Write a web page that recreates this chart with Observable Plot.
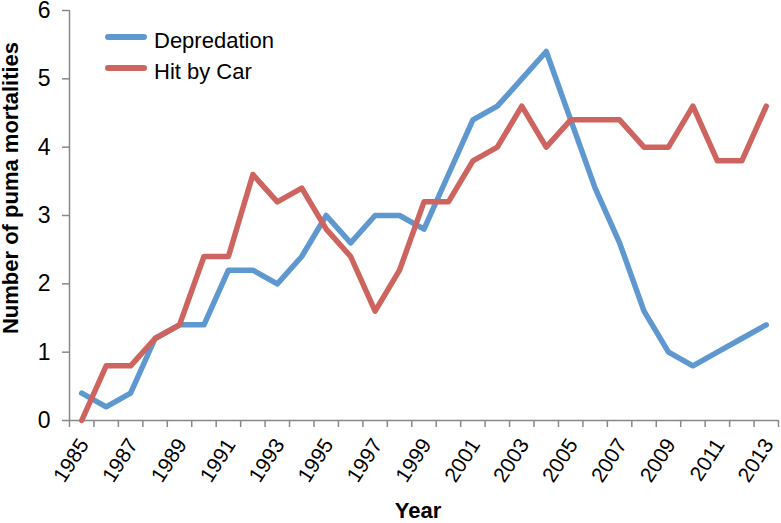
<!DOCTYPE html>
<html>
<head>
<meta charset="utf-8">
<script src="https://cdn.jsdelivr.net/npm/d3@7"></script>
<script src="https://cdn.jsdelivr.net/npm/@observablehq/plot@0.6"></script>
<style>
  html, body { margin: 0; padding: 0; background: #fff; }
  #chart { width: 781px; height: 523px; }
</style>
</head>
<body>
<div id="chart"></div>
<script>
const years = [1985, 1986, 1987, 1988, 1989, 1990, 1991, 1992, 1993, 1994, 1995, 1996, 1997, 1998, 1999,
               2000, 2001, 2002, 2003, 2004, 2005, 2006, 2007, 2008, 2009, 2010, 2011, 2012, 2013];
const depredation = [0.4, 0.2, 0.4, 1.2, 1.4, 1.4, 2.2, 2.2, 2.0, 2.4, 3.0, 2.6, 3.0, 3.0, 2.8,
                     3.6, 4.4, 4.6, 5.0, 5.4, 4.4, 3.4, 2.6, 1.6, 1.0, 0.8, 1.0, 1.2, 1.4];
const hitByCar = [0.0, 0.8, 0.8, 1.2, 1.4, 2.4, 2.4, 3.6, 3.2, 3.4, 2.8, 2.4, 1.6, 2.2, 3.2,
                  3.2, 3.8, 4.0, 4.6, 4.0, 4.4, 4.4, 4.4, 4.0, 4.0, 4.6, 3.8, 3.8, 4.6];
const xTickLabels = [1985, 1987, 1989, 1991, 1993, 1995, 1997, 1999, 2001, 2003, 2005, 2007, 2009, 2011, 2013];
const yTicks = [0, 1, 2, 3, 4, 5, 6];
const seriesNames = ["Depredation", "Hit by Car"];
const seriesColors = ["#5e98cf", "#cd645f"];

const rows = [];
years.forEach((yr, i) => {
  rows.push({year: yr, value: depredation[i], series: seriesNames[0]});
  rows.push({year: yr, value: hitByCar[i], series: seriesNames[1]});
});
// category boundaries (Excel-style ticks between categories)
const boundaries = years.map(y => y - 0.5).concat([years[years.length - 1] + 0.5]);

const axisGray = "#888888";
const plot = Plot.plot({
  width: 781,
  height: 523,
  marginLeft: 69,
  marginRight: 3,
  marginTop: 10,
  marginBottom: 103,
  style: {fontFamily: "'Liberation Sans', Arial, sans-serif", color: "#000", background: "#fff"},
  x: {type: "linear", domain: [years[0] - 0.5, years[years.length - 1] + 0.5]},
  y: {domain: [0, 6]},
  color: {domain: seriesNames, range: seriesColors},
  marks: [
    Plot.ruleX([years[0] - 0.5], {stroke: axisGray, strokeWidth: 1.5}),
    Plot.ruleY([0], {stroke: axisGray, strokeWidth: 1.5}),
    Plot.axisY({ticks: yTicks, tickSize: 7, stroke: axisGray, strokeWidth: 1.5, label: null, tickFormat: () => ""}),
    Plot.axisX({ticks: boundaries, tickSize: 7, stroke: axisGray, strokeWidth: 1.5, tickFormat: () => "", label: null}),
    Plot.text(yTicks, {y: d => d, text: d => String(d), frameAnchor: "left", dx: -19, textAnchor: "end", fontSize: 23, fill: "#000"}),
    Plot.text(xTickLabels, {x: d => d, text: d => String(d), frameAnchor: "bottom", dx: 8, dy: 24, rotate: -57, textAnchor: "end", fontSize: 21, fill: "#000"}),
    Plot.line(rows, {x: "year", y: "value", z: "series", stroke: "series", strokeWidth: 5.5, strokeLinejoin: "round", strokeLinecap: "round"})
  ]
});
document.getElementById("chart").appendChild(plot);

const svg = d3.select(plot);

// Axis titles and legend
svg.append("text")
  .attr("transform", "translate(18,188) rotate(-90)")
  .attr("text-anchor", "middle")
  .style("font-size", "22px")
  .attr("font-weight", "bold")
  .attr("fill", "#000")
  .text("Number of puma mortalities");
svg.append("text")
  .attr("x", 418).attr("y", 518)
  .attr("text-anchor", "middle")
  .style("font-size", "22px")
  .attr("font-weight", "bold")
  .attr("fill", "#000")
  .text("Year");

const legendY = [37, 68];
seriesNames.forEach((name, i) => {
  svg.append("line")
    .attr("x1", 108).attr("x2", 144)
    .attr("y1", legendY[i]).attr("y2", legendY[i])
    .attr("stroke", seriesColors[i])
    .attr("stroke-width", 6)
    .attr("stroke-linecap", "round");
  svg.append("text")
    .attr("x", 154).attr("y", legendY[i] + 11)
    .attr("text-anchor", "start")
    .style("font-size", "22px")
    .attr("fill", "#000")
    .text(name);
});
</script>
</body>
</html>
